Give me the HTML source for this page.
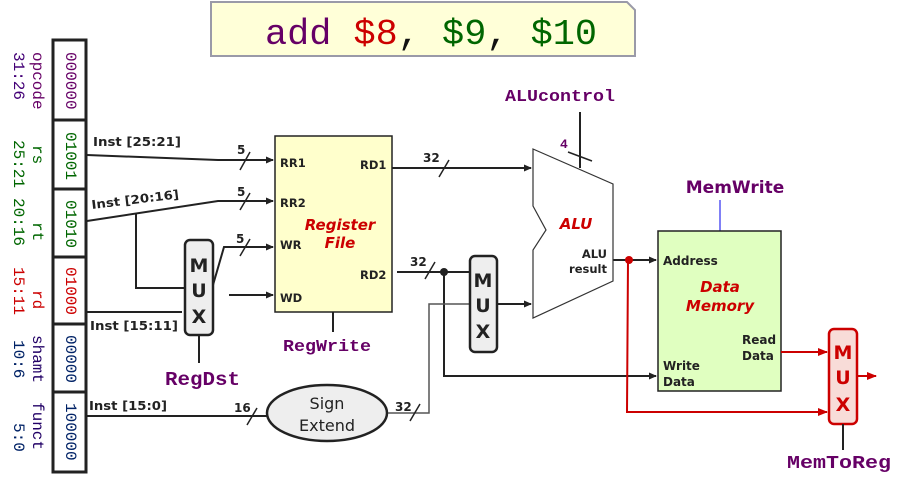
<!DOCTYPE html>
<html><head><meta charset="utf-8"><style>
html,body{margin:0;padding:0;background:#fff;}
svg{display:block;}
.m{font-family:"Liberation Mono",monospace;}
.s{font-family:"DejaVu Sans","Liberation Sans",sans-serif;}
.b{font-family:"DejaVu Sans","Liberation Sans",sans-serif;font-weight:bold;}
</style></head><body>
<svg width="904" height="488" viewBox="0 0 904 488" xmlns="http://www.w3.org/2000/svg">
<defs>
<marker id="a" markerWidth="8" markerHeight="8" refX="7" refY="4" orient="auto" markerUnits="userSpaceOnUse"><path d="M0,0.5 L8,4 L0,7.5z" fill="#222"/></marker>
<marker id="r" markerWidth="10" markerHeight="10" refX="9" refY="5" orient="auto" markerUnits="userSpaceOnUse"><path d="M0,1 L10,5 L0,9z" fill="#c00"/></marker>
</defs>

<!-- title -->
<path d="M211,2 L627,2 L635,10 L635,56 L211,56z" fill="#ffffd8" stroke="#9a9aa8" stroke-width="2"/>
<text x="265" y="44" class="m" font-size="36" textLength="332" lengthAdjust="spacingAndGlyphs"><tspan fill="#660066">add </tspan><tspan fill="#cc0000">$8</tspan><tspan fill="#111">, </tspan><tspan fill="#006600">$9</tspan><tspan fill="#111">, </tspan><tspan fill="#006600">$10</tspan></text>

<!-- instruction fields -->
<rect x="53" y="40" width="33" height="432" fill="#fff" stroke="#222" stroke-width="3"/>
<g stroke="#222" stroke-width="3"><line x1="53" y1="120" x2="86" y2="120"/><line x1="53" y1="189" x2="86" y2="189"/><line x1="53" y1="257" x2="86" y2="257"/><line x1="53" y1="324" x2="86" y2="324"/><line x1="53" y1="392" x2="86" y2="392"/></g>
<g class="m" font-size="16" dominant-baseline="central">
<text transform="translate(70,52) rotate(90)" fill="#660066">000000</text>
<text transform="translate(70,132) rotate(90)" fill="#006600">01001</text>
<text transform="translate(70,200) rotate(90)" fill="#006600">01010</text>
<text transform="translate(70,267) rotate(90)" fill="#cc0000">01000</text>
<text transform="translate(70,335) rotate(90)" fill="#002266">00000</text>
<text transform="translate(70,403) rotate(90)" fill="#002266">100000</text>
<text transform="translate(37,52) rotate(90)" fill="#660066">opcode</text>
<text transform="translate(18,52) rotate(90)" fill="#440077">31:26</text>
<text transform="translate(37,145) rotate(90)" fill="#006600">rs</text>
<text transform="translate(18,140) rotate(90)" fill="#006600">25:21</text>
<text transform="translate(37,222) rotate(90)" fill="#006600">rt</text>
<text transform="translate(18,198) rotate(90)" fill="#006600">20:16</text>
<text transform="translate(37,290) rotate(90)" fill="#cc0000">rd</text>
<text transform="translate(18,267) rotate(90)" fill="#cc0000">15:11</text>
<text transform="translate(37,335) rotate(90)" fill="#220066">shamt</text>
<text transform="translate(18,340) rotate(90)" fill="#002266">10:6</text>
<text transform="translate(37,402) rotate(90)" fill="#220066">funct</text>
<text transform="translate(18,423) rotate(90)" fill="#002266">5:0</text>
</g>

<!-- wires left -->
<g stroke="#222" stroke-width="2" fill="none">
<polyline points="87,155 218,160 273,160" marker-end="url(#a)"/>
<polyline points="87,221 218,201 273,201" marker-end="url(#a)"/>
<polyline points="136,213 136,288 185,288"/>
<line x1="87" y1="312" x2="182" y2="312"/>
<polyline points="213,285 224,247 273,247" marker-end="url(#a)"/>
<line x1="229" y1="295" x2="273" y2="295" marker-end="url(#a)"/>
<line x1="199" y1="335" x2="199" y2="363"/>
<line x1="87" y1="416" x2="267" y2="416"/>
<line x1="333" y1="312" x2="333" y2="332"/>
</g>
<g stroke="#222" stroke-width="1.5">
<line x1="240" y1="170" x2="250" y2="152"/><line x1="240" y1="210" x2="250" y2="193"/><line x1="240" y1="256" x2="250" y2="239"/>
<line x1="247" y1="425" x2="257" y2="408"/>
</g>
<g class="b" font-size="12" fill="#222">
<text x="93" y="146" textLength="88" lengthAdjust="spacingAndGlyphs">Inst [25:21]</text>
<text x="92" y="209" transform="rotate(-7 92 209)" textLength="88" lengthAdjust="spacingAndGlyphs">Inst [20:16]</text>
<text x="90" y="330" textLength="88" lengthAdjust="spacingAndGlyphs">Inst [15:11]</text>
<text x="89" y="410" textLength="78" lengthAdjust="spacingAndGlyphs">Inst [15:0]</text>
<text x="237" y="154">5</text><text x="237" y="196">5</text><text x="236" y="243">5</text>
<text x="234" y="412">16</text>
<text x="423" y="162">32</text><text x="410" y="266">32</text><text x="395" y="411">32</text>
</g>

<!-- mux1 -->
<rect x="185" y="240" width="28" height="95" rx="5" fill="#eeeeee" stroke="#222" stroke-width="2.5"/>
<g class="s" font-weight="bold" font-size="19" fill="#222" text-anchor="middle"><text x="199" y="272">M</text><text x="199" y="297">U</text><text x="199" y="323">X</text></g>
<text x="165" y="385" class="m" font-weight="bold" font-size="19" fill="#660066" textLength="75" lengthAdjust="spacingAndGlyphs">RegDst</text>

<!-- register file -->
<rect x="275" y="136" width="117" height="176" fill="#ffffcc" stroke="#222" stroke-width="1.5"/>
<g class="s" font-weight="bold" font-size="11.5" fill="#222"><text x="280" y="167">RR1</text><text x="280" y="207">RR2</text><text x="280" y="249">WR</text><text x="280" y="302">WD</text><text x="360" y="169">RD1</text><text x="360" y="279">RD2</text></g>
<g class="s" font-weight="bold" font-style="italic" font-size="15" fill="#cc0000" text-anchor="middle"><text x="340" y="230">Register</text><text x="340" y="248">File</text></g>
<text x="283" y="351" class="m" font-weight="bold" font-size="17" fill="#660066" textLength="88" lengthAdjust="spacingAndGlyphs">RegWrite</text>

<!-- sign extend -->
<ellipse cx="327" cy="413" rx="60" ry="28" fill="#eeeeee" stroke="#222" stroke-width="2.5"/>
<g class="s" font-size="16" fill="#222" text-anchor="middle"><text x="327" y="409">Sign</text><text x="327" y="431">Extend</text></g>

<!-- middle wires -->
<g stroke="#222" stroke-width="2" fill="none">
<line x1="392" y1="168" x2="531" y2="168" marker-end="url(#a)"/>
<line x1="397" y1="272" x2="469" y2="272"/>
<polyline points="444,272 444,376 656,376" marker-end="url(#a)"/>
<line x1="497" y1="304" x2="531" y2="304" marker-end="url(#a)"/>
<line x1="580" y1="112" x2="580" y2="168"/>
<polyline points="613,260 656,260" marker-end="url(#a)"/>
</g>
<polyline points="388,413 429,413 429,304 469,304" stroke="#555" stroke-width="1.5" fill="none"/>
<circle cx="444" cy="272" r="4" fill="#222"/>
<g stroke="#222" stroke-width="1.5">
<line x1="439" y1="177" x2="449" y2="160"/><line x1="425" y1="279" x2="435" y2="262"/><line x1="410" y1="421" x2="420" y2="404"/>
<line x1="568" y1="152" x2="592" y2="161"/>
</g>

<!-- mux2 -->
<rect x="470" y="256" width="27" height="96" rx="5" fill="#eeeeee" stroke="#222" stroke-width="2.5"/>
<g class="s" font-weight="bold" font-size="19" fill="#222" text-anchor="middle"><text x="483" y="287">M</text><text x="483" y="312">U</text><text x="483" y="338">X</text></g>

<!-- ALU -->
<path d="M533,149 L613,184 L613,281 L533,318 L533,250 L546,230 L533,206z" fill="#fff" stroke="#333" stroke-width="1.2"/>
<text x="576" y="229" class="s" font-weight="bold" font-style="italic" font-size="15" fill="#cc0000" text-anchor="middle">ALU</text>
<g class="s" font-weight="bold" font-size="11.5" fill="#222" text-anchor="end"><text x="607" y="258">ALU</text><text x="607" y="273">result</text></g>
<text x="560" y="148" class="m" font-weight="bold" font-size="13" fill="#660066">4</text>
<text x="505" y="101" class="m" font-weight="bold" font-size="17" fill="#660066" textLength="110" lengthAdjust="spacingAndGlyphs">ALUcontrol</text>

<!-- data memory -->
<line x1="720" y1="200" x2="720" y2="231" stroke="#0000ee" stroke-width="1"/>
<text x="735" y="193" class="s" font-weight="bold" font-size="17" fill="#660066" text-anchor="middle">MemWrite</text>
<rect x="658" y="231" width="123" height="160" fill="#e0ffc0" stroke="#222" stroke-width="1.5"/>
<g class="s" font-weight="bold" font-size="12" fill="#222"><text x="663" y="265">Address</text><text x="663" y="370">Write</text><text x="663" y="386">Data</text><text x="742" y="344">Read</text><text x="742" y="360">Data</text></g>
<g class="s" font-weight="bold" font-style="italic" font-size="15" fill="#cc0000" text-anchor="middle"><text x="720" y="292">Data</text><text x="720" y="311">Memory</text></g>

<!-- red wires -->
<g stroke="#c00" stroke-width="2" fill="none">
<polyline points="628,260 627,412 827,412" marker-end="url(#r)"/>
<line x1="781" y1="352" x2="827" y2="352" marker-end="url(#r)"/>
<line x1="858" y1="376" x2="876" y2="376" marker-end="url(#r)"/>
</g>
<circle cx="629" cy="260" r="4" fill="#c00"/>
<rect x="829" y="329" width="28" height="95" rx="5" fill="#f8dcd8" stroke="#c00" stroke-width="2.5"/>
<g class="s" font-weight="bold" font-size="19" fill="#c00" text-anchor="middle"><text x="843" y="359">M</text><text x="843" y="384">U</text><text x="843" y="411">X</text></g>
<line x1="843" y1="424" x2="843" y2="450" stroke="#222" stroke-width="2"/>
<text x="787" y="468" class="m" font-weight="bold" font-size="18" fill="#660066" textLength="104" lengthAdjust="spacingAndGlyphs">MemToReg</text>
</svg>
</body></html>
